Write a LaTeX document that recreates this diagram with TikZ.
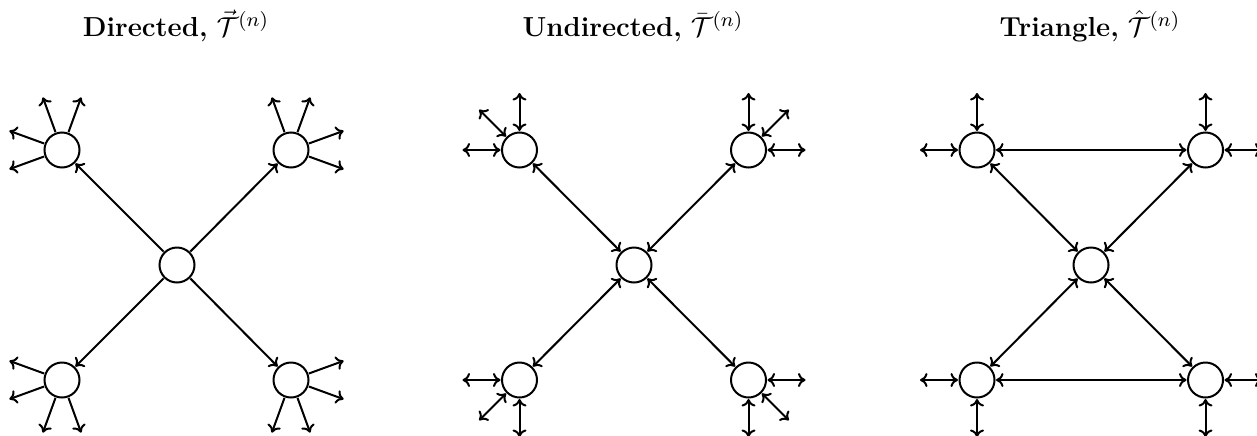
\documentclass[tikz,border=0pt]{standalone}
\usetikzlibrary{calc,arrows.meta}
\tikzset{
  vert/.style={draw, circle, line width=0.8pt, minimum size=14pt, inner sep=0pt, outer sep=0.6pt},
  edge/.style={line width=0.8pt, >={To[length=3pt,width=5.6pt]}},
  title/.style={anchor=base, inner sep=0pt, font=\fontsize{11}{13}\selectfont}
}
\begin{document}
\begin{tikzpicture}[x=0.4pt, y=0.4pt]
\useasboundingbox (0,0) rectangle (1257,435);
\clip (0,0) rectangle (1257,435);
% titles
\node[title] (t1) at (176,399) {\textbf{Directed,} $\vec{\mathcal{T}}^{(n)}$};
\node[title] (t2) at (633,399) {\textbf{Undirected,} $\bar{\mathcal{T}}^{(n)}$};
\node[title] (t3) at (1090,399) {\textbf{Triangle,} $\hat{\mathcal{T}}^{(n)}$};
% panel 1: directed
\node[vert] (C1) at (177,170) {};
\node[vert] (TL1) at (62,285) {};
\node[vert] (TR1) at (291,285) {};
\node[vert] (BL1) at (62,55) {};
\node[vert] (BR1) at (291,55) {};
\foreach \n in {TL1,TR1,BL1,BR1} {\draw[edge,->] (C1) -- (\n);}
\foreach \n/\a in {TL1/70,TL1/110,TL1/160,TL1/200,
                   TR1/70,TR1/110,TR1/20,TR1/-20,
                   BL1/160,BL1/200,BL1/250,BL1/290,
                   BR1/20,BR1/-20,BR1/250,BR1/290} {
  \coordinate (\n-\a) at ($(\n)+(\a:56)$);
  \draw[edge,->] (\n) -- (\n-\a);
}
% panel 2: undirected
\node[vert] (C2) at (634,170) {};
\node[vert] (TL2) at (519.5,285) {};
\node[vert] (TR2) at (748.5,285) {};
\node[vert] (BL2) at (519.5,55) {};
\node[vert] (BR2) at (748.5,55) {};
\foreach \n in {TL2,TR2,BL2,BR2} {\draw[edge,<->] (C2) -- (\n);}
\foreach \n/\a in {TL2/90,TL2/135,TL2/180,
                   TR2/90,TR2/45,TR2/0,
                   BL2/180,BL2/225,BL2/270,
                   BR2/0,BR2/315,BR2/270} {
  \coordinate (\n-\a) at ($(\n)+(\a:57)$);
  \draw[edge,<->] (\n) -- (\n-\a);
}
% panel 3: triangle
\node[vert] (C3) at (1091,170) {};
\node[vert] (TL3) at (977,285) {};
\node[vert] (TR3) at (1205.5,285) {};
\node[vert] (BL3) at (977,55) {};
\node[vert] (BR3) at (1205.5,55) {};
\foreach \n in {TL3,TR3,BL3,BR3} {\draw[edge,<->] (C3) -- (\n);}
\draw[edge,<->] (TL3) -- (TR3);
\draw[edge,<->] (BL3) -- (BR3);
\foreach \n/\a in {TL3/90,TL3/180,
                   TR3/90,TR3/0,
                   BL3/180,BL3/270,
                   BR3/0,BR3/270} {
  \coordinate (\n-\a) at ($(\n)+(\a:57)$);
  \draw[edge,<->] (\n) -- (\n-\a);
}
\end{tikzpicture}
\end{document}
